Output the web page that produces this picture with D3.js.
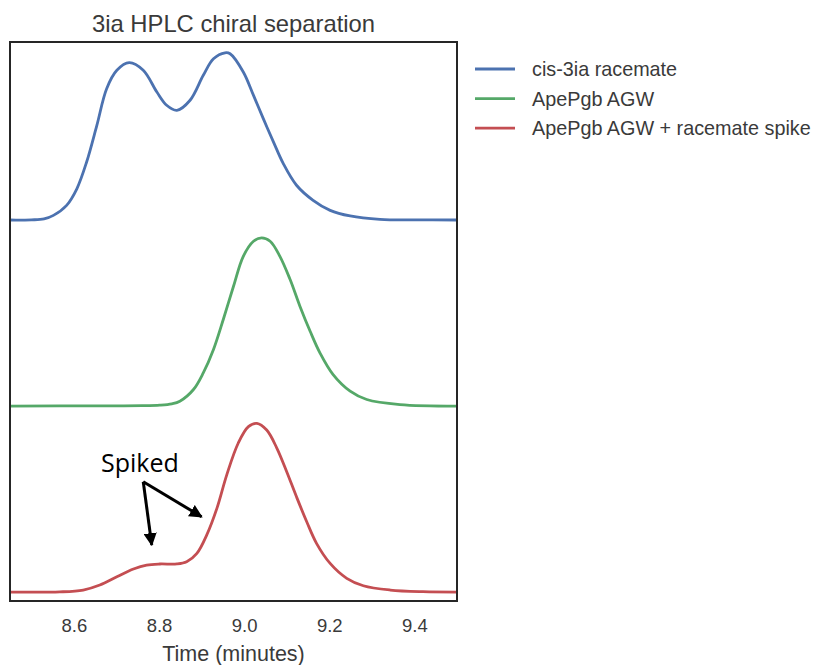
<!DOCTYPE html>
<html><head><meta charset="utf-8">
<script src="https://cdn.jsdelivr.net/npm/d3@7"></script>
<style>body{margin:0;background:#fff;} svg{display:block;}</style>
</head><body>
<svg id="chart" width="817" height="665"></svg>
<script>
// ---- data ----
const seriesNames = ["cis-3ia racemate", "ApePgb AGW", "ApePgb AGW + racemate spike"];
const seriesColors = ["#4c72b0", "#55a868", "#c44e52"];
const seriesOffsets = [2, 1, 0];

const racemateTime = [8.450,8.500,8.530,8.552,8.583,8.607,8.630,8.654,8.677,8.701,8.730,8.763,8.795,8.818,8.842,8.873,8.904,8.928,8.955,8.967,8.998,9.022,9.045,9.069,9.092,9.123,9.162,9.202,9.249,9.319,9.400,9.500];
const racemateSignal = [0,0.001,0.006,0.025,0.079,0.168,0.312,0.509,0.706,0.805,0.846,0.805,0.688,0.617,0.590,0.644,0.778,0.867,0.899,0.894,0.796,0.670,0.545,0.419,0.303,0.187,0.106,0.052,0.022,0.004,0.001,0];

const agwTime = [8.450,8.661,8.760,8.802,8.830,8.849,8.881,8.904,8.928,8.951,8.975,8.998,9.022,9.041,9.061,9.084,9.108,9.131,9.155,9.178,9.209,9.249,9.288,9.366,9.500];
const agwSignal = [0,0.001,0.002,0.005,0.012,0.026,0.089,0.178,0.304,0.465,0.644,0.805,0.886,0.904,0.886,0.805,0.680,0.537,0.402,0.286,0.169,0.080,0.035,0.008,0];

const spikeTime = [8.450,8.567,8.622,8.661,8.701,8.740,8.771,8.802,8.842,8.865,8.889,8.912,8.936,8.959,8.986,9.010,9.030,9.053,9.077,9.100,9.123,9.147,9.170,9.202,9.241,9.280,9.343,9.420,9.500];
const spikeSignal = [0,0.001,0.011,0.038,0.082,0.124,0.145,0.151,0.151,0.163,0.208,0.306,0.450,0.629,0.800,0.889,0.907,0.871,0.773,0.647,0.512,0.378,0.262,0.154,0.074,0.034,0.011,0.002,0];

const xTicks = [8.6, 8.8, 9.0, 9.2, 9.4];
const xDomain = [8.45, 9.5];
const yDomain = [-0.048, 2.957];

// annotation (data coordinates on the spiked trace)
const annotText = "Spiked";
const annotAnchor = {t: 8.755, v: 0.647};
const annotFrom = {t: 8.763, v: 0.593};
const annotTips = [{t: 8.783, v: 0.253}, {t: 8.900, v: 0.405}];

// ---- layout ----
const L = 10, R = 457, T = 42, B = 601;
const FONT = "'Liberation Sans', Arial, sans-serif";
const TXT = "#3a3a3a";
const svg = d3.select("#chart");
const x = d3.scaleLinear().domain(xDomain).range([L, R]);
const y = d3.scaleLinear().domain(yDomain).range([B, T]);

const traces = [
  {time: racemateTime, signal: racemateSignal},
  {time: agwTime, signal: agwSignal},
  {time: spikeTime, signal: spikeSignal}
];

const defs = svg.append("defs");
defs.append("clipPath").attr("id","clip")
  .append("rect").attr("x",L).attr("y",T).attr("width",R-L).attr("height",B-T);

const line = d3.line().x(d => x(d[0])).y(d => y(d[1])).curve(d3.curveCatmullRom.alpha(0.5));

const g = svg.append("g").attr("clip-path","url(#clip)");
traces.forEach((tr, i) => {
  const pts = tr.time.map((t, k) => [t, tr.signal[k] + seriesOffsets[i]]);
  g.append("path").datum(pts)
    .attr("d", line)
    .attr("fill","none")
    .attr("stroke", seriesColors[i])
    .attr("stroke-width", 2.8)
    .attr("stroke-linejoin","round")
    .attr("stroke-linecap","round");
});

// frame
svg.append("rect").attr("x",L).attr("y",T).attr("width",R-L).attr("height",B-T)
  .attr("fill","none").attr("stroke","#262626").attr("stroke-width",2);

// x axis (labels only, no tick marks)
const xAxis = d3.axisBottom(x).tickValues(xTicks).tickFormat(d3.format(".1f")).tickSize(0).tickPadding(17.5);
const ax = svg.append("g").attr("transform",`translate(0,${B})`).call(xAxis);
ax.select(".domain").remove();
ax.selectAll("text").attr("font-family",FONT).attr("font-size",18.5).attr("fill",TXT);

// axis label
svg.append("text").attr("x",(L+R)/2).attr("y",661).attr("text-anchor","middle")
  .attr("font-family",FONT).attr("font-size",21.5).attr("fill",TXT)
  .text("Time (minutes)");

// title
svg.append("text").attr("x",(L+R)/2).attr("y",32).attr("text-anchor","middle")
  .attr("font-family",FONT).attr("font-size",23.8).attr("fill",TXT)
  .text("3ia HPLC chiral separation");

// legend
const leg = svg.append("g");
seriesNames.forEach((n, i) => {
  const yy = 69 + i * 29.6;
  leg.append("line").attr("x1",475).attr("x2",515).attr("y1",yy).attr("y2",yy)
    .attr("stroke",seriesColors[i]).attr("stroke-width",2.8);
  leg.append("text").attr("x",532).attr("y",yy+7)
    .attr("font-family",FONT).attr("font-size",19.8).attr("fill",TXT)
    .text(n);
});

// annotation
defs.append("marker").attr("id","arrow").attr("viewBox","0 0 10 10").attr("refX",9).attr("refY",5)
  .attr("markerWidth",4.4).attr("markerHeight",4.4).attr("markerUnits","strokeWidth").attr("orient","auto")
  .append("path").attr("d","M0,0 L10,5 L0,10 z").attr("fill","#000");
svg.append("text").attr("x",x(annotAnchor.t)).attr("y",y(annotAnchor.v)).attr("text-anchor","middle")
  .attr("font-family","'Open Sans', 'Noto Sans', sans-serif").attr("font-size",25).attr("fill","#000")
  .text(annotText);
annotTips.forEach(tp => {
  svg.append("line").attr("x1",x(annotFrom.t)).attr("y1",y(annotFrom.v))
    .attr("x2",x(tp.t)).attr("y2",y(tp.v))
    .attr("stroke","#000").attr("stroke-width",3).attr("marker-end","url(#arrow)");
});
</script>
</body></html>
